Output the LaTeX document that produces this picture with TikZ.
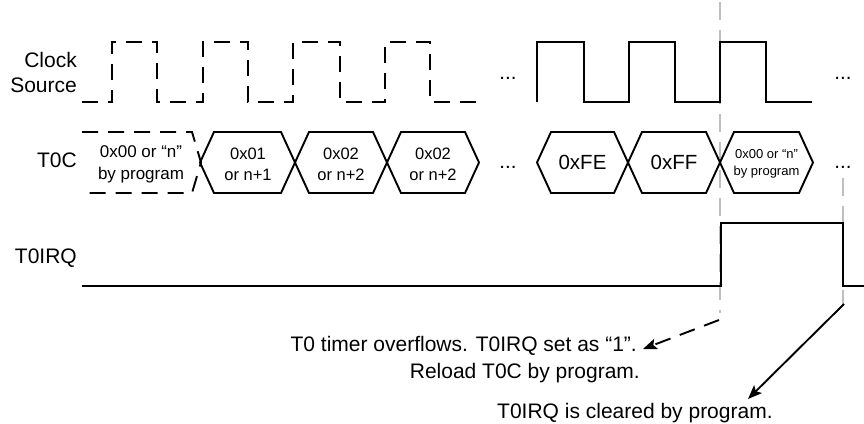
\documentclass[tikz,border=0pt]{standalone}
\usepackage{fontspec}
\setmainfont{Liberation Sans}
\usetikzlibrary{arrows.meta}
\begin{document}
\begin{tikzpicture}[x=1pt,y=-1pt,
  sig/.style={line width=1.9pt, line join=miter},
  dsig/.style={sig, dash pattern=on 16pt off 10pt},
  guide/.style={line width=1.4pt, draw=black!25, dash pattern=on 18pt off 10pt},
  lbl/.style={font=\fontsize{21}{25}\selectfont, align=right, inner sep=0pt},
  big/.style={font=\fontsize{20.5}{25}\selectfont, inner sep=0pt},
  mid/.style={font=\fontsize{16.5}{21}\selectfont, align=center, inner sep=0pt},
  small/.style={font=\fontsize{13}{16.5}\selectfont, align=center, inner sep=0pt},
  note/.style={font=\fontsize{21}{27}\selectfont, inner sep=0pt},
  arr/.style={line width=1.9pt, -{Stealth[length=14pt,width=11pt,inset=3pt]}}
]
\useasboundingbox (0,0) rectangle (864,423);

% guide lines
\draw[guide] (720,2) -- (720,313);
\draw[guide] (843,178) -- (843,306);

% labels
\node[lbl, anchor=base east] (clk) at (77,67) {Clock};
\node[lbl, anchor=base east] (src) at (77,92) {Source};
\node[lbl, anchor=base east] (t0c) at (77,167) {T0C};
\node[lbl, anchor=base east] (irq) at (77,263) {T0IRQ};

% clock source
\draw[dsig] (82,102) -- (112,102) -- (112,42) -- (157,42) -- (157,102) -- (203,102) -- (203,42) -- (248,42) -- (248,102) -- (293,102) -- (293,42) -- (340,42) -- (340,102) -- (385,102) -- (385,42) -- (430,42) -- (430,102) -- (477,102);
\draw[sig] (537,102) -- (537,42) -- (584,42) -- (584,102) -- (629,102) -- (629,42) -- (675,42) -- (675,102) -- (720,102) -- (720,42) -- (766,42) -- (766,102) -- (812,102);
\node[big, anchor=base] (d1) at (508,79) {...};
\node[big, anchor=base] (d2) at (843,79) {...};

% T0C bus
\draw[dsig] (82,132) -- (192,132) -- (201,162.5) -- (192,193) -- (82,193);
\foreach \a/\b in {200/295, 295/387, 387/479, 537/628, 628/720, 720/813}{
  \draw[sig] (\a,162.5) -- (\a+14,132) -- (\b-14,132) -- (\b,162.5) -- (\b-14,193) -- (\a+14,193) -- cycle;
}
\node[font=\fontsize{17}{22}\selectfont, align=center, inner sep=0pt] (v0) at (141,164) {0x00 or “n”\\by program};
\node[mid] (v1) at (248,164) {0x01\\or n+1};
\node[mid] (v2) at (341,164) {0x02\\or n+2};
\node[mid] (v3) at (433,164) {0x02\\or n+2};
\node[big, anchor=base] (d3) at (508,168) {...};
\node[big] (vfe) at (582.5,162.5) {0xFE};
\node[big] (vff) at (674,162.5) {0xFF};
\node[small] (v4) at (766.5,164) {0x00 or “n”\\by program};
\node[big, anchor=base] (d4) at (843,168) {...};

% T0IRQ
\draw[sig] (82,286) -- (721,286) -- (721,223) -- (843,223) -- (843,286) -- (864,286);

% notes
\node[note, anchor=base east] (n1) at (637,351) {T0 timer overflows. T0IRQ set as “1”.};
\node[note, anchor=base east] (n1b) at (640,378) {Reload T0C by program.};
\node[note, anchor=base west] (n2) at (497,418) {T0IRQ is cleared by program.};
\coordinate (a1) at (719,320);
\coordinate (a1t) at (643,349);
\coordinate (a2) at (844,304);
\coordinate (a2t) at (748,399);
\draw[arr, dash pattern=on 16pt off 10pt] (a1) -- (a1t);
\draw[arr] (a2) -- (a2t);
\end{tikzpicture}
\end{document}
